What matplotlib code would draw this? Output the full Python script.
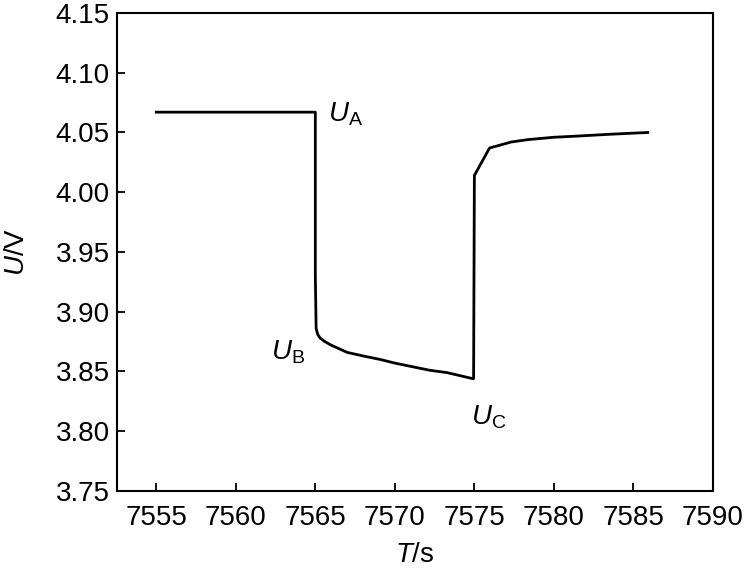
import numpy as np
import matplotlib.pyplot as plt

plt.rcParams['font.family'] = ['Liberation Sans', 'DejaVu Sans']
plt.rcParams['mathtext.fontset'] = 'custom'
plt.rcParams['mathtext.rm'] = 'Liberation Sans'
plt.rcParams['mathtext.it'] = 'Liberation Sans:italic'

# voltage trace
t = [7555.0, 7565.0, 7565.0, 7565.05, 7565.15, 7565.3, 7565.6, 7566.0, 7567.0,
     7568.0, 7569.1, 7570.0, 7571.1, 7572.2, 7573.3, 7574.9, 7574.95, 7575.0,
     7575.95, 7576.5, 7577.3, 7578.35, 7580.0, 7581.5, 7583.5, 7585.9]
u = [4.067, 4.067, 3.930, 3.886, 3.881, 3.878, 3.875, 3.872, 3.866,
     3.863, 3.860, 3.857, 3.854, 3.851, 3.849, 3.844, 3.844, 4.014,
     4.037, 4.039, 4.042, 4.044, 4.046, 4.047, 4.0485, 4.050]

xticks = [7555, 7560, 7565, 7570, 7575, 7580, 7585, 7590]
yticks = [3.75, 3.80, 3.85, 3.90, 3.95, 4.00, 4.05, 4.10, 4.15]

fig = plt.figure(figsize=(7.44, 5.69), dpi=100)
ax = fig.add_axes([0.1566, 0.1371, 0.9583 - 0.1566, 0.9772 - 0.1371])

ax.plot(t, u, color='black', lw=2.0, solid_joinstyle='round')

ax.set_xlim(7552.5, 7590)
ax.set_ylim(3.75, 4.15)
ax.set_xticks(xticks)
ax.set_yticks(yticks)
ax.set_yticklabels(['%.2f' % v for v in yticks])
ax.tick_params(direction='in', length=6, width=1.3, labelsize=20, pad=5,
               top=False, right=False)
ax.tick_params(axis='x', pad=10)
for s in ax.spines.values():
    s.set_linewidth(1.5)

ax.set_xlabel('$\\it{T}$/s', fontsize=20, labelpad=8)
ax.set_ylabel('$\\it{U}$/V', fontsize=20, labelpad=18)

ax.text(7565.8, 4.065, '$\\it{U}_{\\rm A}$', fontsize=20, ha='left', va='center')
ax.text(7562.2, 3.866, '$\\it{U}_{\\rm B}$', fontsize=20, ha='left', va='center')
ax.text(7574.8, 3.812, '$\\it{U}_{\\rm C}$', fontsize=20, ha='left', va='center')

fig.savefig('out.png', dpi=100)
